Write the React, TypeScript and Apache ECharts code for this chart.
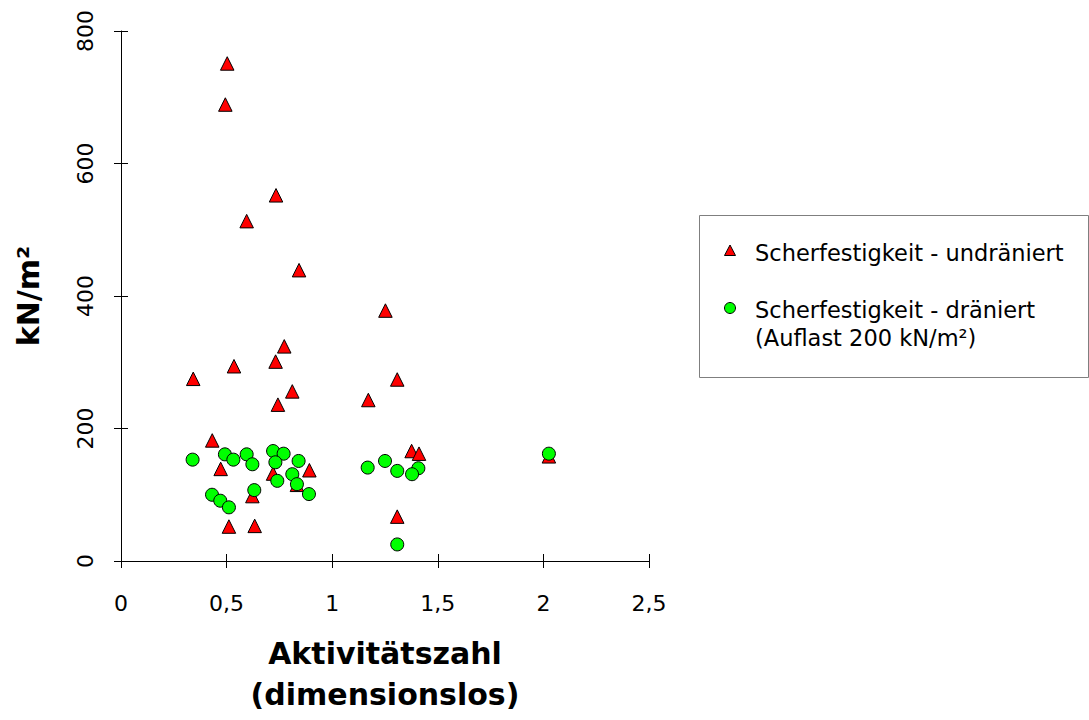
import React, { useEffect, useRef } from "react";
import * as echarts from "echarts";

// Scherfestigkeit - undräniert  [Aktivitätszahl, kN/m²]
const undrained: [number, number][] = [
  [0.503, 751], [0.494, 689], [0.734, 552], [0.595, 513], [0.843, 439],
  [1.252, 378], [0.773, 324], [0.732, 301], [0.535, 294], [0.342, 275],
  [1.308, 274], [0.811, 256], [0.743, 236], [1.171, 243], [0.432, 182],
  [0.472, 139], [1.376, 166], [1.411, 162], [1.308, 67], [0.622, 98],
  [0.511, 52], [0.633, 53], [0.72, 132], [0.892, 137], [0.833, 115],
  [2.026, 158],
];

// Scherfestigkeit - dräniert (Auflast 200 kN/m²)
const drained: [number, number][] = [
  [0.339, 153], [0.492, 161], [0.532, 153], [0.595, 161], [0.622, 146],
  [0.431, 100], [0.47, 91], [0.511, 81], [0.631, 107], [0.72, 166],
  [0.77, 162], [0.731, 149], [0.74, 121], [0.841, 151], [0.811, 131],
  [0.833, 116], [0.89, 101], [1.168, 141], [1.25, 151], [1.308, 136],
  [1.408, 140], [1.378, 131], [1.308, 25], [2.026, 162],
];

const xTicks = [0, 0.5, 1, 1.5, 2, 2.5];
const xTickLabels = ["0", "0,5", "1", "1,5", "2", "2,5"];
const yTicks = [0, 200, 400, 600, 800];
const yTickLabels = ["0", "200", "400", "600", "800"];

const seriesNames = ["Scherfestigkeit - undräniert", "Scherfestigkeit - dräniert", "(Auflast 200 kN/m²)"];
const xTitle = "Aktivitätszahl\n(dimensionslos)";
const yTitle = "kN/m²";

const FONT = "DejaVu Sans";

export default function App() {
  const ref = useRef<HTMLDivElement>(null);
  useEffect(() => {
    document.body.style.margin = "0";
    const chart = echarts.init(ref.current!, undefined, { renderer: "svg" });
    const xLab = (v: number) => {
      const i = xTicks.findIndex((t) => Math.abs(t - v) < 1e-9);
      return i >= 0 ? xTickLabels[i] : "";
    };
    const yLab = (v: number) => {
      const i = yTicks.findIndex((t) => Math.abs(t - v) < 1e-9);
      return i >= 0 ? yTickLabels[i] : "";
    };
    const axisLine = { show: true, lineStyle: { color: "#000", width: 1 } };
    chart.setOption({
      animation: false,
      backgroundColor: "#fff",
      grid: { left: 121, right: 440, top: 31, bottom: 157, containLabel: false },
      xAxis: [
        {
          type: "value", min: 0, max: 2.5, interval: 0.5, position: "bottom",
          axisLine: { ...axisLine, onZero: false },
          axisTick: { show: true, length: 7, lineStyle: { color: "#000" } },
          axisLabel: { formatter: xLab, margin: 31, fontSize: 22, fontFamily: FONT, color: "#000" },
          splitLine: { show: false },
          name: xTitle, nameLocation: "middle", nameGap: 72,
          nameTextStyle: { fontSize: 30, fontWeight: "bold", fontFamily: FONT, color: "#000", lineHeight: 41 },
        },
        {
          type: "value", min: 0, max: 2.5, interval: 0.5, position: "bottom",
          axisLine: { show: false, onZero: false },
          axisTick: { show: true, inside: true, length: 7, lineStyle: { color: "#000" } },
          axisLabel: { show: false }, splitLine: { show: false },
        },
      ],
      yAxis: [
        {
          type: "value", min: 0, max: 800, interval: 200, position: "left",
          axisLine: { ...axisLine, onZero: false },
          axisTick: { show: true, length: 7, lineStyle: { color: "#000" } },
          axisLabel: { formatter: yLab, rotate: 90, margin: 25, fontSize: 22, fontFamily: FONT, color: "#000" },
          splitLine: { show: false },
          name: yTitle, nameLocation: "middle", nameGap: 78, nameRotate: 90,
          nameTextStyle: { fontSize: 30, fontWeight: "bold", fontFamily: FONT, color: "#000" },
        },
        {
          type: "value", min: 0, max: 800, interval: 200, position: "left",
          axisLine: { show: false, onZero: false },
          axisTick: { show: true, inside: true, length: 7, lineStyle: { color: "#000" } },
          axisLabel: { show: false }, splitLine: { show: false },
        },
      ],
      series: [
        {
          name: seriesNames[0], type: "scatter", xAxisIndex: 0, yAxisIndex: 0,
          symbol: "triangle", symbolSize: 13.5, data: undrained,
          itemStyle: { color: "#ff0000", borderColor: "#000", borderWidth: 1, opacity: 1 },
        },
        {
          name: seriesNames[1], type: "scatter", xAxisIndex: 0, yAxisIndex: 0,
          symbol: "circle", symbolSize: 13, data: drained,
          itemStyle: { color: "#00ff00", borderColor: "#000", borderWidth: 1, opacity: 1 },
        },
      ],
      graphic: [
        {
          type: "rect", shape: { x: 699.5, y: 215.5, width: 389, height: 162 },
          style: { fill: "#fff", stroke: "#7f7f7f", lineWidth: 1 }, z: 10,
        },
        {
          type: "polygon", shape: { points: [[724.5, 255.5], [735.5, 255.5], [730, 245]] },
          style: { fill: "#ff0000", stroke: "#000", lineWidth: 1 }, z: 11,
        },
        {
          type: "circle", shape: { cx: 730, cy: 308, r: 5.5 },
          style: { fill: "#00ff00", stroke: "#000", lineWidth: 1 }, z: 11,
        },
        {
          type: "text", x: 755, y: 253, z: 11,
          style: { text: seriesNames[0], fontSize: 22.5, fontFamily: FONT, fill: "#000", align: "left", verticalAlign: "middle" },
        },
        {
          type: "text", x: 755, y: 310, z: 11,
          style: { text: seriesNames[1], fontSize: 22.5, fontFamily: FONT, fill: "#000", align: "left", verticalAlign: "middle" },
        },
        {
          type: "text", x: 755, y: 338, z: 11,
          style: { text: seriesNames[2], fontSize: 22.5, fontFamily: FONT, fill: "#000", align: "left", verticalAlign: "middle" },
        },
      ],
    });
    return () => chart.dispose();
  }, []);
  return <div ref={ref} style={{ position: "absolute", left: 0, top: 0, width: 1089, height: 720 }} />;
}
